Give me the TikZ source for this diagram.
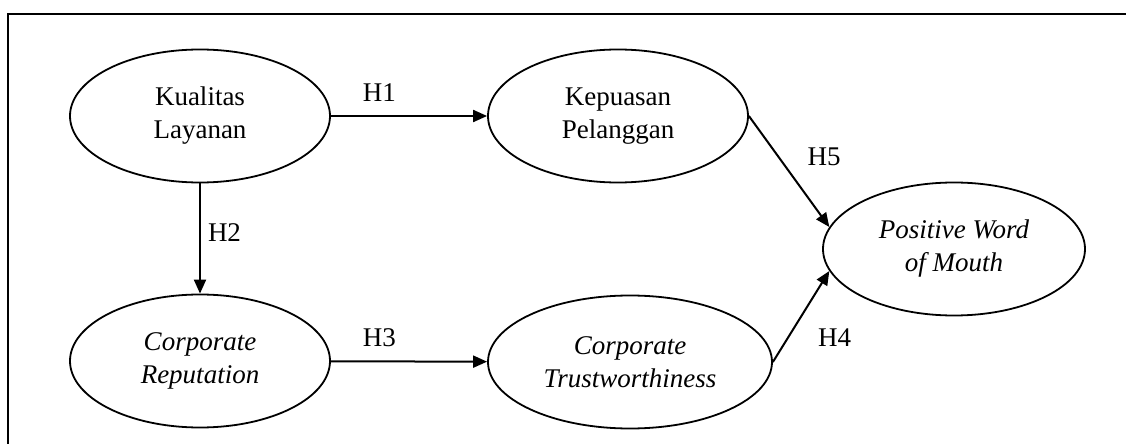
\documentclass[tikz,border=0pt]{standalone}
\usepackage{fontspec}
\setmainfont{Liberation Serif}
\usetikzlibrary{arrows.meta,shapes.geometric}

\newcommand{\figfont}{\fontsize{13.5}{16.5}\selectfont}

\begin{document}
\begin{tikzpicture}[x=0.5pt,y=-0.5pt,font=\figfont]

      \useasboundingbox (0,0) rectangle (1126,444);
      \draw[line width=1.1pt] (8,444) -- (8,14) -- (1126,14);

      \begin{scope}[every node/.style={ellipse,draw,line width=0.9pt,align=center,
          inner sep=0pt,minimum width=130pt,minimum height=66.5pt}]
        \node (kl) at (200,116) {Kualitas\\Layanan};
        \node (kp) at (618,116) {Kepuasan\\Pelanggan};
        \node[font=\figfont\itshape] (cr) at (200,361) {Corporate\\Reputation};
        \node[font=\figfont\itshape,minimum width=142pt] (ct) at (630,362) {Corporate\\Trustworthiness};
        \node[font=\figfont\itshape,minimum width=131pt] (pw) at (954,249) {Positive Word\\of Mouth};
      \end{scope}

      \begin{scope}[every node/.style={inner sep=0pt}]

        \begin{scope}[every edge/.style={draw,line width=1pt,-{Triangle[length=7pt,width=6pt]}}]
          \path (kl) edge node[above=6.5pt,pos=0.31] {H1} (kp);
          \path (kl) edge node[right=3.5pt,pos=0.45] {H2} (cr);
          \path (cr) edge node[above=7pt,pos=0.31] {H3} (ct);
          \path (ct.east) edge node[right=14.5pt,pos=0.27] {H4} (pw.190);
          \path (kp.east) edge node[right=14pt,pos=0.37] {H5} (pw.170);
        \end{scope}
      \end{scope}

    \end{tikzpicture}
\end{document}
